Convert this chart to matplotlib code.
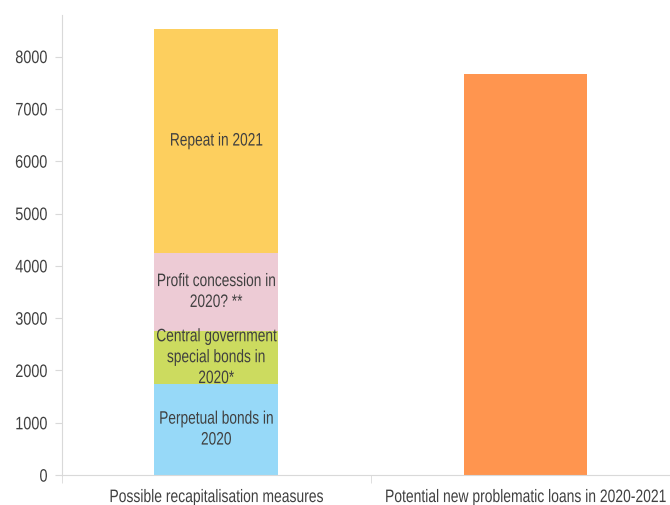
import matplotlib
matplotlib.use("Agg")
import matplotlib.pyplot as plt
import matplotlib.patheffects as pe
from matplotlib.transforms import Affine2D
import numpy as np

plt.rcParams['font.family'] = ['Liberation Sans', 'DejaVu Sans']

categories = ["Possible recapitalisation measures", "Potential new problematic loans in 2020-2021"]
seg_labels = ["Perpetual bonds in\n2020", "Central government\nspecial bonds in\n2020*",
              "Profit concession in\n2020? **", "Repeat in 2021"]
seg_values = [1740, 1010, 1500, 4270]
seg_colors = ["#97D9F8", "#CCDB5F", "#EDCBD5", "#FDCF5E"]
loans_value = 7675


# the original uses a narrow font, squeeze the glyphs horizontally
class Squeeze(pe.AbstractPathEffect):
    def __init__(self, sx=0.78, anchor='center'):
        super().__init__()
        self.sx = sx
        self.anchor = anchor

    def draw_path(self, renderer, gc, tpath, affine, rgbFace=None):
        ext = tpath.get_extents()
        cx = ext.x1 if self.anchor == 'right' else (ext.x0 + ext.x1) / 2
        t = Affine2D().translate(-cx, 0).scale(self.sx, 1).translate(cx, 0) + affine
        renderer.draw_path(gc, tpath, t, rgbFace)


txt = "#404040"
fig = plt.figure(figsize=(6.7, 5.06), dpi=100)
ax = fig.add_axes([0.092, 0.059, 0.923, 0.91])

x = np.arange(len(categories))
w = 0.4
bottom = 0
for lab, v, c in zip(seg_labels, seg_values, seg_colors):
    ax.bar(x[0], v, w, bottom=bottom, color=c)
    ax.text(x[0], bottom + v / 2, lab, ha='center', va='center', fontsize=13,
            color=txt, linespacing=1.3, path_effects=[Squeeze(0.76)])
    bottom += v
ax.bar(x[1], loans_value, w, color="#FF954F")

ax.set_xlim(-0.5, 1.5)
ax.set_ylim(0, 8800)
ax.set_yticks(range(0, 9000, 1000))
ax.set_xticks(x)
ax.set_xticklabels(categories)
ax.set_xticks([-0.5, 0.5, 1.5], minor=True)
ax.tick_params(axis='x', which='major', length=0, pad=10, labelsize=13, labelcolor=txt)
ax.tick_params(axis='x', which='minor', length=6, color='#D9D9D9')
ax.tick_params(axis='y', length=5, color='#D9D9D9', labelsize=13, labelcolor=txt, pad=5)
for t in ax.get_xticklabels():
    t.set_path_effects([Squeeze(0.77)])
for t in ax.get_yticklabels():
    t.set_path_effects([Squeeze(0.8, 'right')])
for s in ['top', 'right']:
    ax.spines[s].set_visible(False)
for s in ['left', 'bottom']:
    ax.spines[s].set_color('#D9D9D9')

fig.savefig("out.png", dpi=100)
